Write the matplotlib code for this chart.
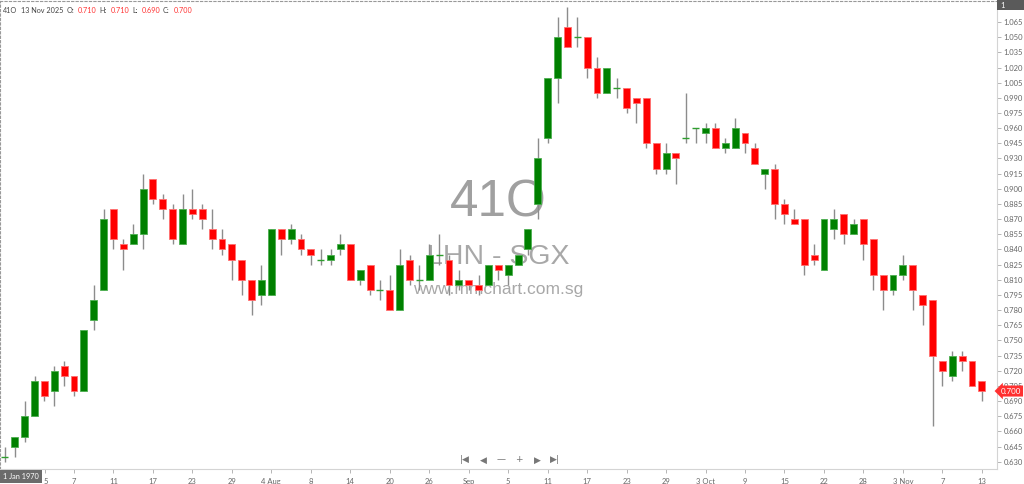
import matplotlib.pyplot as plt
from matplotlib.patches import Rectangle
from matplotlib.transforms import blended_transform_factory
import numpy as np

# OHLC (41O, jours de bourse jusqu'au 13 Nov 2025)
opens = [0.635, 0.645, 0.655, 0.675, 0.710, 0.700, 0.725, 0.715, 0.700, 0.770,
         0.800, 0.880, 0.845, 0.845, 0.855, 0.910, 0.890, 0.880, 0.845, 0.880,
         0.880, 0.860, 0.850, 0.845, 0.830, 0.810, 0.795, 0.795, 0.860, 0.850,
         0.850, 0.840, 0.830, 0.830, 0.840, 0.845, 0.810, 0.825, 0.800, 0.800,
         0.780, 0.830, 0.810, 0.810, 0.835, 0.830, 0.805, 0.810, 0.805, 0.805,
         0.825, 0.815, 0.825, 0.840, 0.885, 0.950, 1.010, 1.060, 1.050, 1.050,
         1.020, 0.995, 1.000, 1.000, 0.990, 0.990, 0.945, 0.920, 0.935, 0.950,
         0.960, 0.955, 0.960, 0.940, 0.940, 0.955, 0.940, 0.915, 0.920, 0.885,
         0.870, 0.870, 0.835, 0.820, 0.860, 0.875, 0.855, 0.870, 0.850, 0.815,
         0.800, 0.815, 0.825, 0.795, 0.790, 0.730, 0.715, 0.735, 0.730, 0.710]
highs = [0.645, 0.655, 0.690, 0.715, 0.710, 0.725, 0.730, 0.715, 0.760, 0.805,
         0.880, 0.880, 0.850, 0.865, 0.915, 0.910, 0.895, 0.885, 0.895, 0.900,
         0.885, 0.880, 0.860, 0.845, 0.830, 0.810, 0.825, 0.860, 0.860, 0.865,
         0.855, 0.840, 0.840, 0.840, 0.855, 0.845, 0.820, 0.825, 0.810, 0.815,
         0.840, 0.835, 0.825, 0.845, 0.855, 0.835, 0.820, 0.810, 0.815, 0.825,
         0.825, 0.825, 0.835, 0.860, 0.950, 1.010, 1.070, 1.080, 1.070, 1.050,
         1.030, 1.020, 1.010, 1.000, 0.990, 0.990, 0.945, 0.945, 0.935, 0.995,
         0.960, 0.965, 0.965, 0.950, 0.970, 0.955, 0.945, 0.920, 0.925, 0.890,
         0.880, 0.870, 0.845, 0.870, 0.880, 0.875, 0.870, 0.870, 0.850, 0.815,
         0.815, 0.835, 0.825, 0.795, 0.790, 0.730, 0.740, 0.740, 0.730, 0.710]
lows = [0.630, 0.635, 0.650, 0.675, 0.690, 0.685, 0.705, 0.695, 0.700, 0.760,
        0.800, 0.840, 0.820, 0.845, 0.840, 0.885, 0.870, 0.845, 0.845, 0.870,
        0.860, 0.840, 0.835, 0.810, 0.795, 0.775, 0.785, 0.795, 0.835, 0.845,
        0.835, 0.825, 0.825, 0.825, 0.835, 0.810, 0.805, 0.795, 0.790, 0.780,
        0.780, 0.805, 0.800, 0.810, 0.825, 0.795, 0.800, 0.800, 0.795, 0.805,
        0.810, 0.805, 0.825, 0.835, 0.870, 0.945, 0.985, 1.040, 1.040, 1.010,
        0.990, 0.995, 0.990, 0.975, 0.965, 0.940, 0.915, 0.915, 0.905, 0.945,
        0.945, 0.945, 0.940, 0.935, 0.940, 0.935, 0.925, 0.900, 0.870, 0.865,
        0.865, 0.815, 0.825, 0.820, 0.850, 0.845, 0.855, 0.830, 0.800, 0.780,
        0.795, 0.810, 0.780, 0.765, 0.665, 0.705, 0.710, 0.720, 0.705, 0.690]
closes = [0.635, 0.655, 0.675, 0.710, 0.695, 0.720, 0.715, 0.700, 0.760, 0.790,
          0.870, 0.850, 0.840, 0.855, 0.900, 0.890, 0.880, 0.850, 0.880, 0.875,
          0.870, 0.850, 0.840, 0.830, 0.810, 0.790, 0.810, 0.860, 0.850, 0.860,
          0.840, 0.835, 0.830, 0.835, 0.845, 0.810, 0.820, 0.800, 0.800, 0.780,
          0.825, 0.810, 0.810, 0.835, 0.835, 0.805, 0.810, 0.805, 0.800, 0.825,
          0.820, 0.825, 0.835, 0.860, 0.930, 1.010, 1.050, 1.040, 1.050, 1.020,
          0.995, 1.020, 1.000, 0.980, 0.985, 0.945, 0.920, 0.935, 0.930, 0.950,
          0.960, 0.960, 0.940, 0.945, 0.960, 0.945, 0.925, 0.920, 0.885, 0.875,
          0.865, 0.825, 0.830, 0.870, 0.870, 0.855, 0.865, 0.845, 0.815, 0.800,
          0.815, 0.825, 0.800, 0.785, 0.735, 0.720, 0.735, 0.730, 0.705, 0.700]

# Etiquettes de l'axe des dates (position = indice de la bougie)
date_pos = [4.1, 7, 11, 15, 19, 23, 27, 31, 35, 39, 43, 47, 51, 55, 59, 63,
            67, 71, 75, 79, 83, 87, 91, 95, 99]
date_labels = ["5", "7", "11", "17", "23", "29", "4 Aug", "8", "14", "20", "26",
               "Sep", "5", "11", "17", "23", "29", "3 Oct", "9", "15", "22", "28",
               "3 Nov", "7", "13"]

GREEN = "#008000"
RED = "#ff0000"
FONT = "Lato"

fig = plt.figure(figsize=(10.24, 4.84), dpi=100)
ax = fig.add_axes([0, 0.0304, 0.9733, 0.9682])

x = np.arange(len(opens))
o = np.array(opens)
h = np.array(highs)
l = np.array(lows)
c = np.array(closes)

# Filigrane
ax.text(0.5, 0.568, "41O", transform=ax.transAxes, ha="center", va="center",
        fontsize=37, color="#a0a0a0", family="Liberation Sans", zorder=0)
ax.text(0.5, 0.453, "LHN - SGX", transform=ax.transAxes, ha="center", va="center",
        fontsize=20.5, color="#a8a8a8", family="Liberation Sans", zorder=0)
ax.text(0.5, 0.383, "www.mmchart.com.sg", transform=ax.transAxes, ha="center", va="center",
        fontsize=12.5, color="#a8a8a8", family="Liberation Sans", zorder=0)

# Mèches
ax.vlines(x, l, h, color="#8c8c8c", lw=1, zorder=2)

# Corps
up = c > o
down = c < o
doji = c == o
ax.bar(x[up], (c - o)[up], bottom=o[up], width=0.7, color=GREEN,
       edgecolor="#4caf50", lw=0.6, zorder=3)
ax.bar(x[down], (o - c)[down], bottom=c[down], width=0.7, color=RED,
       edgecolor="#ff7070", lw=0.6, zorder=3)
ax.hlines(c[doji], x[doji] - 0.35, x[doji] + 0.35, color="#2e9e2e", lw=1, zorder=3)

ax.set_xlim(-0.5, 100.5)
ax.set_ylim(0.6226, 1.0861)

# Axe des prix à droite
ax.yaxis.tick_right()
yt = np.round(np.arange(0.630, 1.066, 0.015), 3)
ax.set_yticks(yt)
ax.set_yticklabels([f"{v:.3f}" for v in yt], family=FONT, fontsize=5.5, color="#666666")
ax.tick_params(axis="y", length=3, width=0.6, color="#aaaaaa", pad=2)

ax.set_xticks(date_pos)
ax.set_xticklabels(date_labels, family=FONT, fontsize=5.5, color="#666666")
ax.tick_params(axis="x", length=3, width=0.6, color="#aaaaaa", pad=3)

for side in ["top", "left"]:
    ax.spines[side].set_linestyle((0, (2, 2)))
    ax.spines[side].set_color("#999999")
    ax.spines[side].set_linewidth(0.8)
for side in ["right", "bottom"]:
    ax.spines[side].set_color("#d4d4d4")
    ax.spines[side].set_linewidth(0.8)

# Boutons de navigation
nav = ["|◀", "◀", "—", "+", "▶", "▶|"]
for i, s in enumerate(nav):
    ax.text(0.4666 + i * 0.01805, 0.02, s, transform=ax.transAxes, ha="center",
            va="center", fontsize=6.5, color="#777777", family="DejaVu Sans", zorder=5)

# Dernier prix sur l'axe (recouvre en partie le 0.705, comme l'original)
tr = blended_transform_factory(ax.transAxes, ax.transData)
ax.text(1.004, closes[-1], f"{closes[-1]:.3f}", transform=tr, ha="left", va="center",
        fontsize=5.8, color="white", family=FONT, zorder=6, clip_on=False,
        bbox=dict(boxstyle="larrow,pad=0.25", facecolor="#ff3030", edgecolor="none"))

# Boîte "1" en haut à droite
fig.patches.append(Rectangle((997 / 1024, 1 - 10 / 484), 27 / 1024, 10 / 484,
                             transform=fig.transFigure, facecolor="#5a5a5a", edgecolor="none"))
fig.text(1000 / 1024, 1 - 5 / 484, "1", color="white", fontsize=5.5, family=FONT,
         va="center", ha="left")

# Boîte date en bas à gauche
fig.patches.append(Rectangle((0, 1 - 483 / 484), 42 / 1024, 13 / 484,
                             transform=fig.transFigure, facecolor="#6b6b6b", edgecolor="none",
                             zorder=10))
fig.text(21 / 1024, 1 - 476.5 / 484, "1 Jan 1970", color="white", fontsize=5.3,
         family=FONT, va="center", ha="center", zorder=11)

# En-tête OHLC
yh = 1 - 10.7 / 484
header = [(3, "41O", "#444444"), (21, "13 Nov 2025", "#444444"),
          (67, "O:", "#444444"), (78, f"{opens[-1]:.3f}", "#ff3333"),
          (99, "H:", "#444444"), (111, f"{highs[-1]:.3f}", "#ff3333"),
          (132, "L:", "#444444"), (142, f"{lows[-1]:.3f}", "#ff3333"),
          (163, "C:", "#444444"), (174, f"{closes[-1]:.3f}", "#ff3333")]
for px, s, col in header:
    fig.text(px / 1024, yh, s, color=col, fontsize=5.2, family=FONT, va="center", ha="left")

fig.savefig("out.png", dpi=100)
